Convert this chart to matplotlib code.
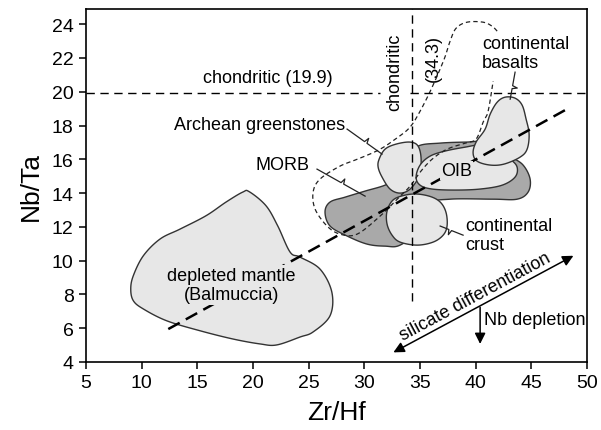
import numpy as np
import matplotlib
matplotlib.use('Agg')
import matplotlib.pyplot as plt

plt.rcParams['font.family'] = ['Liberation Sans', 'DejaVu Sans']

# ---------------- data (Zr/Hf, Nb/Ta) ----------------
mantle_zrhf = [19.67, 21.17, 22.22, 23.33, 24.23, 26.02, 27.08, 26.92, 25.40, 24.23, 22.13, 20.63,
               18.21, 15.24, 12.25, 10.15, 9.25, 9.02, 9.25, 10.15, 11.65, 13.45, 15.78, 17.58, 19.08]
mantle_nbta = [14.08, 13.25, 12.06, 10.51, 10.21, 9.50, 8.14, 6.74, 5.78, 5.48, 5.01, 5.07,
               5.36, 5.85, 6.44, 7.14, 7.63, 8.32, 9.11, 10.29, 11.28, 11.87, 12.66, 13.47, 14.06]

morb_zrhf = [26.47, 26.92, 28.27, 30.07, 31.86, 33.21, 34.11, 34.83, 36.81, 39.14, 41.30, 43.10,
             44.26, 44.89, 44.71, 43.72, 41.57, 37.70, 35.91, 35.01, 33.21, 31.86, 30.25, 28.45, 26.92]
morb_nbta = [12.88, 13.47, 13.76, 14.12, 14.47, 14.95, 16.01, 16.78, 16.96, 17.02, 17.02, 16.19,
             15.66, 14.83, 14.06, 13.64, 13.64, 13.64, 13.35, 11.87, 10.92, 10.86, 10.98, 11.46, 12.05]

archean_zrhf = [31.33, 31.86, 32.85, 34.11, 34.83, 35.10, 34.92, 34.11, 33.21, 32.31, 31.59, 31.24]
archean_nbta = [16.01, 16.60, 16.90, 17.02, 16.78, 16.01, 15.01, 14.24, 14.00, 14.24, 14.95, 15.54]

crust_zrhf = [32.04, 32.58, 33.66, 34.83, 36.09, 36.90, 37.35, 37.43, 37.08, 36.18, 34.74, 33.21, 32.49, 32.04]
crust_nbta = [12.93, 13.59, 13.88, 13.94, 13.76, 13.41, 12.82, 12.05, 11.51, 11.10, 10.92, 11.10, 11.51, 12.17]

oib_zrhf = [34.65, 35.01, 35.91, 37.26, 39.05, 40.40, 41.75, 43.10, 43.72, 43.54, 42.38, 40.40, 38.15, 36.09, 35.01]
oib_nbta = [14.95, 15.66, 16.19, 16.49, 16.72, 16.84, 16.60, 16.01, 15.54, 14.95, 14.47, 14.24, 14.18, 14.24, 14.47]

basalt_zrhf = [41.93, 42.65, 43.54, 44.17, 44.53, 44.80, 44.62, 43.99, 42.56, 41.30, 40.13, 39.77, 40.04, 40.85, 41.30]
basalt_nbta = [19.38, 19.68, 19.62, 19.21, 18.38, 17.49, 16.60, 16.13, 15.72, 15.66, 15.89, 16.37, 17.02, 17.79, 18.67]

# thin dashed field outline (open at the "continental basalts" label)
field_zrhf = [41.93, 41.48, 40.67, 39.23, 38.24, 37.70, 37.17, 36.09, 35.01, 34.11, 33.03, 31.42,
              29.62, 27.82, 26.02, 25.40, 25.58, 26.65, 27.82, 29.35, 31.42, 32.94, 34.11, 35.01,
              36.09, 37.43, 39.05, 40.04, 40.67, 41.12, 41.57]
field_nbta = [23.59, 23.88, 24.12, 24.12, 23.76, 22.99, 21.93, 20.27, 18.85, 17.91, 17.31, 16.60,
              16.07, 15.60, 14.83, 14.06, 13.05, 12.05, 11.57, 11.57, 12.64, 13.64, 14.41, 15.24,
              16.01, 16.60, 16.96, 17.20, 18.20, 18.85, 20.63]

trend_zrhf = [12.39, 48.19]
trend_nbta = [5.95, 18.97]

chondritic_nbta = 19.9
chondritic_zrhf = 34.3

xticks = list(range(5, 51, 5))
yticks = list(range(4, 25, 2))

# ---------------- helpers ----------------
def catmull(xs, ys, closed=True, n=16):
    P = np.column_stack([xs, ys]).astype(float)
    if closed:
        P = np.vstack([P[-1], P, P[0], P[1]])
    else:
        P = np.vstack([P[0], P, P[-1]])
    out = []
    t = np.linspace(0, 1, n, endpoint=False)[:, None]
    for i in range(1, len(P) - 2):
        p0, p1, p2, p3 = P[i - 1], P[i], P[i + 1], P[i + 2]
        seg = 0.5 * ((2 * p1) + (-p0 + p2) * t + (2 * p0 - 5 * p1 + 4 * p2 - p3) * t ** 2
                     + (-p0 + 3 * p1 - 3 * p2 + p3) * t ** 3)
        out.append(seg)
    if closed:
        out.append(P[1][None, :])
    else:
        out.append(P[-2][None, :])
    r = np.vstack(out)
    return r[:, 0], r[:, 1]


fig = plt.figure(figsize=(6.01, 4.31), dpi=100)
ax = fig.add_axes([86 / 601, 1 - 363 / 431, 501 / 601, 353 / 431])
ax.set_xlim(5, 50)
ax.set_ylim(4, 24.9)

edge = '#333333'
light = '#e7e7e7'
dark = '#a9a9a9'

def blob(xs, ys, fc, z):
    sx, sy = catmull(xs, ys, closed=True)
    ax.fill(sx, sy, facecolor=fc, edgecolor=edge, lw=1.0, zorder=z)

blob(mantle_zrhf, mantle_nbta, light, 2)
blob(morb_zrhf, morb_nbta, dark, 2)
blob(archean_zrhf, archean_nbta, light, 3)
blob(crust_zrhf, crust_nbta, light, 3)
blob(oib_zrhf, oib_nbta, light, 3)
blob(basalt_zrhf, basalt_nbta, light, 4)

fx, fy = catmull(field_zrhf, field_nbta, closed=False)
ax.plot(fx, fy, color='#222222', lw=0.9, ls=(0, (3.5, 2.5)), zorder=5)

# chondritic reference lines
ax.plot([5, 31.4], [chondritic_nbta, chondritic_nbta], color='k', lw=1.0, ls=(0, (6, 4)), zorder=6)
ax.plot([34.1, 50], [chondritic_nbta, chondritic_nbta], color='k', lw=1.0, ls=(0, (6, 4)), zorder=6)
ax.plot([chondritic_zrhf, chondritic_zrhf], [7.6, 24.9], color='k', lw=1.0, ls=(0, (6, 4)), zorder=6)

# trend line
ax.plot(trend_zrhf, trend_nbta, color='k', lw=1.8, ls=(0, (5.2, 2.8)), zorder=7)

fig.canvas.draw()

def bolt(x0, y0, x1, y1):
    T = ax.transData
    p0 = T.transform((x0, y0)); p1 = T.transform((x1, y1))
    d = p1 - p0; L = np.hypot(*d); u = d / L
    nrm = np.array([-u[1], u[0]])
    m = p0 + 0.5 * d
    pts = T.inverted().transform(np.array([p0, m, m + 1.5 * u + 5 * nrm, m + 3 * u, p1]))
    ax.plot(pts[:, 0], pts[:, 1], color='#222222', lw=0.9, zorder=8)

bolt(28.45, 17.79, 31.59, 16.31)   # Archean greenstones
bolt(25.75, 15.42, 30.07, 13.82)   # MORB
bolt(38.87, 11.51, 36.81, 12.05)   # continental crust
bolt(43.54, 21.16, 43.10, 19.56)   # continental basalts

fs = 13
ax.text(21.35, 20.86, 'chondritic (19.9)', ha='center', va='center', fontsize=fs)
ax.text(32.76, 21.24, 'chondritic', ha='center', va='center', fontsize=fs, rotation=90)
ax.text(36.2, 22.03, '(34.3)', ha='center', va='center', fontsize=fs, rotation=90)
ax.text(40.58, 22.28, 'continental\nbasalts', ha='left', va='center', fontsize=fs, linespacing=1.15)
ax.text(20.63, 18.08, 'Archean greenstones', ha='center', va='center', fontsize=fs)
ax.text(22.65, 15.72, 'MORB', ha='center', va='center', fontsize=fs)
ax.text(38.31, 15.32, 'OIB', ha='center', va='center', fontsize=fs, zorder=9,
        bbox=dict(boxstyle='square,pad=0.05', fc=light, ec='none'))
ax.text(39.05, 11.50, 'continental\ncrust', ha='left', va='center', fontsize=fs, linespacing=1.15)
ax.text(18.05, 8.57, 'depleted mantle\n(Balmuccia)', ha='center', va='center', fontsize=fs,
        linespacing=1.2, zorder=9, bbox=dict(boxstyle='square,pad=0.1', fc=light, ec='none'))
ax.text(39.95, 7.91, 'silicate differentiation', ha='center', va='center', fontsize=fs,
        rotation=28.2, rotation_mode='anchor')
ax.text(40.76, 6.54, 'Nb depletion', ha='left', va='center', fontsize=fs)

ax.annotate('', xy=(48.78, 10.29), xytext=(32.61, 4.57),
            arrowprops=dict(arrowstyle='<|-|>', mutation_scale=16, lw=1.1, color='k',
                            shrinkA=0, shrinkB=0))
ax.annotate('', xy=(40.40, 5.07), xytext=(40.40, 7.24),
            arrowprops=dict(arrowstyle='-|>', mutation_scale=16, lw=1.1, color='k',
                            shrinkA=0, shrinkB=0))

ax.set_xticks(xticks)
ax.set_yticks(yticks)
ax.tick_params(direction='out', length=5, width=1.1, labelsize=14, pad=4,
               top=False, right=False)
for s in ax.spines.values():
    s.set_linewidth(1.2)
ax.set_xlabel('Zr/Hf', fontsize=19, labelpad=6)
ax.set_ylabel('Nb/Ta', fontsize=19, labelpad=6)

fig.savefig('out.png', dpi=100)
